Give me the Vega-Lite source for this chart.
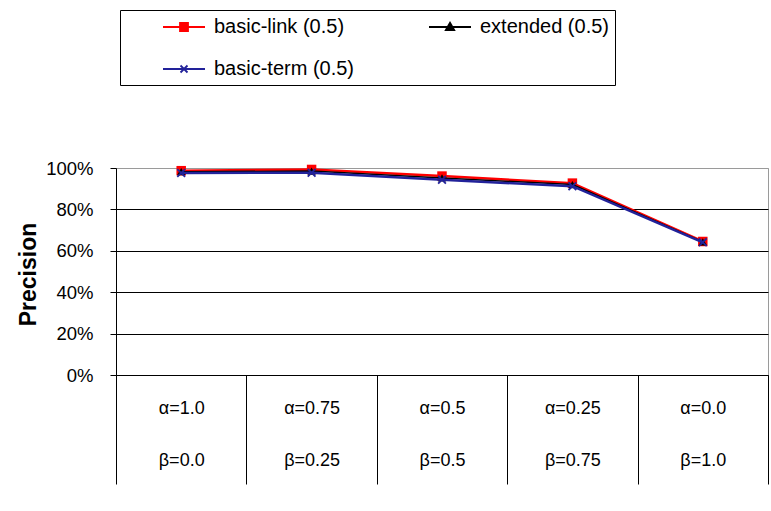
{
  "$schema": "https://vega.github.io/schema/vega-lite/v6.json",
  "width": 652,
  "height": 207,
  "autosize": "none",
  "padding": {"left": 116, "top": 168, "right": 3, "bottom": 136},
  "background": "white",
  "config": {
    "font": "Liberation Sans",
    "view": {"stroke": "#9a9a9a", "strokeWidth": 1}
  },
  "data": {
    "values": [
      {"setting": "α=1.0 β=0.0", "series": "basic-link (0.5)", "precision": 0.987},
      {"setting": "α=0.75 β=0.25", "series": "basic-link (0.5)", "precision": 0.993},
      {"setting": "α=0.5 β=0.5", "series": "basic-link (0.5)", "precision": 0.961},
      {"setting": "α=0.25 β=0.75", "series": "basic-link (0.5)", "precision": 0.927},
      {"setting": "α=0.0 β=1.0", "series": "basic-link (0.5)", "precision": 0.645},
      {"setting": "α=1.0 β=0.0", "series": "extended (0.5)", "precision": 0.982},
      {"setting": "α=0.75 β=0.25", "series": "extended (0.5)", "precision": 0.985},
      {"setting": "α=0.5 β=0.5", "series": "extended (0.5)", "precision": 0.952},
      {"setting": "α=0.25 β=0.75", "series": "extended (0.5)", "precision": 0.92},
      {"setting": "α=0.0 β=1.0", "series": "extended (0.5)", "precision": 0.643},
      {"setting": "α=1.0 β=0.0", "series": "basic-term (0.5)", "precision": 0.976},
      {"setting": "α=0.75 β=0.25", "series": "basic-term (0.5)", "precision": 0.977},
      {"setting": "α=0.5 β=0.5", "series": "basic-term (0.5)", "precision": 0.943},
      {"setting": "α=0.25 β=0.75", "series": "basic-term (0.5)", "precision": 0.912},
      {"setting": "α=0.0 β=1.0", "series": "basic-term (0.5)", "precision": 0.641}
    ]
  },
  "encoding": {
    "x": {
      "field": "setting",
      "type": "nominal",
      "sort": null,
      "scale": {"paddingInner": 0, "paddingOuter": 0},
      "axis": {
        "title": null,
        "tickBand": "extent",
        "tickSize": 109,
        "tickColor": "#000",
        "tickWidth": 1,
        "domainColor": "#000",
        "domainWidth": 1,
        "labelPadding": -85,
        "labelExpr": "split(datum.label, ' ')",
        "labelLineHeight": 52,
        "labelFontSize": 18,
        "labelColor": "#000",
        "labelAngle": 0,
        "labelBaseline": "top",
        "labelOverlap": false,
        "labelLimit": 0,
        "grid": false
      }
    },
    "y": {
      "field": "precision",
      "type": "quantitative",
      "scale": {"domain": [0, 1], "nice": false},
      "axis": {
        "title": "Precision",
        "titleFontSize": 23,
        "titleFontWeight": "bold",
        "titleColor": "#000",
        "titleX": -88,
        "titleY": 106,
        "titleAngle": -90,
        "titleAlign": "center",
        "titleBaseline": "middle",
        "values": [0, 0.2, 0.4, 0.6, 0.8, 1],
        "format": ".0%",
        "tickSize": 6,
        "tickColor": "#000",
        "domainColor": "#000",
        "labelPadding": 17,
        "labelFontSize": 18.5,
        "labelColor": "#000",
        "grid": true,
        "gridColor": {"condition": {"test": "datum.value >= 1", "value": "#9a9a9a"}, "value": "#000"},
        "gridOpacity": 1
      }
    },
    "color": {
      "field": "series",
      "type": "nominal",
      "scale": {
        "domain": ["basic-link (0.5)", "basic-term (0.5)", "extended (0.5)"],
        "range": ["#ff0000", "#22229a", "#000000"]
      },
      "legend": {
        "orient": "none",
        "legendX": 4,
        "legendY": -158,
        "title": null,
        "columns": 2,
        "padding": 6,
        "strokeColor": "#000",
        "fillColor": "#ffffff",
        "symbolSize": 400,
        "symbolOffset": 47,
        "labelOffset": 19,
        "rowPadding": 21,
        "columnPadding": 37,
        "labelFontSize": 20,
        "labelColor": "#000",
        "labelLimit": 0,
        "encode": {
          "symbols": {
            "update": {
              "shape": {"signal": "datum.value === 'basic-link (0.5)' ? 'M-2.1,0H2.1M-0.4,-0.4H0.4V0.4H-0.4Z' : datum.value === 'extended (0.5)' ? 'M-2.1,0H2.1M0,-0.42L0.42,0.32H-0.42Z' : 'M-2.1,0H2.1M-0.35,-0.35L0.35,0.35M-0.35,0.35L0.35,-0.35'"},
              "fill": {"scale": "color", "field": "value"},
              "stroke": {"scale": "color", "field": "value"},
              "strokeWidth": {"value": 1.8},
              "opacity": {"value": 1}
            }
          }
        }
      }
    }
  },
  "layer": [
    {
      "transform": [{"filter": "datum.series === 'basic-link (0.5)'"}],
      "mark": {"type": "line", "strokeWidth": 2.5}
    },
    {
      "transform": [{"filter": "datum.series === 'basic-link (0.5)'"}],
      "mark": {"type": "point", "shape": "square", "filled": true, "size": 90, "opacity": 1}
    },
    {
      "transform": [{"filter": "datum.series === 'extended (0.5)'"}],
      "mark": {"type": "line", "strokeWidth": 1.5}
    },
    {
      "transform": [{"filter": "datum.series === 'extended (0.5)'"}],
      "mark": {"type": "point", "shape": "triangle-up", "filled": true, "size": 70, "opacity": 1}
    },
    {
      "transform": [{"filter": "datum.series === 'basic-term (0.5)'"}],
      "mark": {"type": "line", "strokeWidth": 2.5}
    },
    {
      "transform": [{"filter": "datum.series === 'basic-term (0.5)'"}],
      "mark": {"type": "point", "shape": "M-1,-1L1,1M-1,1L1,-1", "filled": false, "size": 60, "strokeWidth": 1.8, "opacity": 1}
    }
  ]
}
